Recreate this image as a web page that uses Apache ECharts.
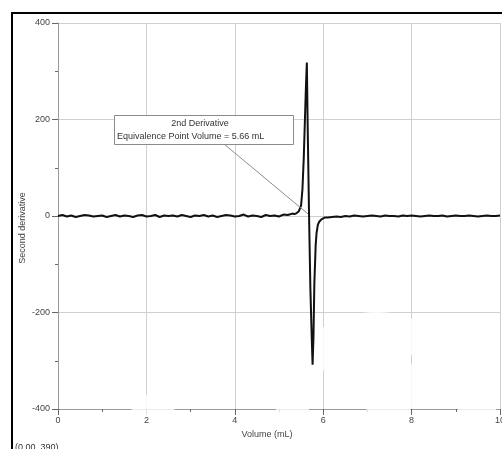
<!DOCTYPE html>
<html><head><meta charset="utf-8">
<script src="https://cdn.jsdelivr.net/npm/echarts@6/dist/echarts.min.js"></script>
<style>html,body{margin:0;padding:0;background:#fff}#c{width:502px;height:449px}</style>
</head><body><div id="c"></div>
<script>
// Volume (mL)
const volumes = [
  0.0,0.1,0.2,0.3,0.4,0.5,0.6,0.7,0.8,0.9,
  1.0,1.1,1.2,1.3,1.4,1.5,1.6,1.7,1.8,1.9,
  2.0,2.1,2.2,2.3,2.4,2.5,2.6,2.7,2.8,2.9,
  3.0,3.1,3.2,3.3,3.4,3.5,3.6,3.7,3.8,3.9,
  4.0,4.1,4.2,4.3,4.4,4.5,4.6,4.7,4.8,4.9,
  5.0,5.1,5.2,5.3,
  5.35,5.40,5.45,5.50,5.53,5.56,5.59,5.61,5.63,5.65,5.68,5.71,5.74,5.76,5.78,5.80,5.83,5.85,5.88,5.91,5.96,6.00,6.04,
  6.1,6.2,6.3,6.4,6.5,6.6,6.7,6.8,6.9,7.0,
  7.1,7.2,7.3,7.4,7.5,7.6,7.7,7.8,7.9,8.0,
  8.1,8.2,8.3,8.4,8.5,8.6,8.7,8.8,8.9,9.0,
  9.1,9.2,9.3,9.4,9.5,9.6,9.7,9.8,9.9,10.0
];
// Second derivative
const secondDerivative = [
  0,2,-1,1,-2,0,2,1,-1,0,
  1,-2,0,2,-1,1,0,-2,1,2,
  -1,0,2,-2,1,0,1,-1,2,0,
  -2,1,0,2,-1,1,-2,0,2,1,
  -1,0,3,-1,1,0,-2,2,0,1,
  -1,3,2,5,
  4,6,10,22,55,120,210,270,318,180,0,-150,-250,-308,-250,-139,-60,-35,-18,-12,-7,-5,-3,
  -3,-2,-1,-2,0,-1,1,0,-1,0,
  1,0,-1,1,0,0,-1,1,0,1,
  0,-1,0,1,0,0,1,-1,0,1,
  0,0,1,0,-1,0,1,0,0,1
];
const xTickLabels = ['0','2','4','6','8','10'];
const yTickLabels = ['-400','-200','0','200','400'];
const xTitle = 'Volume (mL)';
const yTitle = 'Second derivative';
const calloutTitle = '2nd Derivative';
const calloutText = 'Equivalence Point Volume = 5.66 mL';
const calloutPoint = [5.66, 4];
const cornerText = '(0.00, 390)';

const FONT = 'Liberation Sans, Arial, sans-serif';
const seriesData = volumes.map((v, i) => [v, secondDerivative[i]]);

const chart = echarts.init(document.getElementById('c'), null, {renderer: 'canvas'});
chart.setOption({
  animation: false,
  backgroundColor: '#fff',
  grid: {left: 58, right: 2, top: 23, bottom: 40, containLabel: false, outerBoundsMode: 'none'},
  xAxis: [{
    type: 'value', min: 0, max: 10, interval: 2, z: 0,
    axisLine: {show: true, onZero: false, lineStyle: {color: '#9a9a9a', width: 1}},
    axisTick: {show: true, length: 6, lineStyle: {color: '#666'}},
    minorTick: {show: true, splitNumber: 2, length: 3, lineStyle: {color: '#666'}},
    splitLine: {show: true, lineStyle: {color: '#d0d0d0', width: 1}},
    axisLabel: {show: false}
  }, {
    type: 'value', min: 0, max: 10, interval: 2, position: 'bottom', z: 5,
    axisLine: {show: false}, axisTick: {show: false}, splitLine: {show: false},
    axisLabel: {show: true, margin: 7, color: '#444', fontSize: 9, fontFamily: FONT,
      hideOverlap: false, formatter: v => xTickLabels[Math.round(v / 2)]},
    name: xTitle, nameLocation: 'middle', nameGap: 18,
    nameTextStyle: {color: '#444', fontSize: 9, fontFamily: FONT, padding: [0, 24, 0, 0]}
  }],
  yAxis: {
    type: 'value', min: -400, max: 400, interval: 200,
    axisLine: {show: true, onZero: false, lineStyle: {color: '#9a9a9a', width: 1}},
    axisTick: {show: true, length: 6, lineStyle: {color: '#666'}},
    minorTick: {show: true, splitNumber: 2, length: 3, lineStyle: {color: '#666'}},
    splitLine: {show: true, lineStyle: {color: '#d0d0d0', width: 1}},
    axisLabel: {margin: 8, color: '#444', fontSize: 9, fontFamily: FONT,
      formatter: v => yTickLabels[Math.round((v + 400) / 200)]}
  },
  series: [{
    type: 'line', xAxisIndex: 0, data: seriesData, showSymbol: false, z: 3,
    lineStyle: {color: '#111', width: 2}, clip: true
  }]
});

const p = chart.convertToPixel({seriesIndex: 0}, calloutPoint);
const boxX = 114, boxY = 115, boxW = 179, boxH = 29;
chart.setOption({
  graphic: {elements: [
    // faint watermark shapes
    {type: 'polygon', z: 1, silent: true, shape: {points: [[128,413],[153,388],[214,449],[164,449]]}, style: {fill: '#fff', opacity: 0.8}},
    {type: 'sector', z: 1, silent: true, shape: {cx: 376, cy: 412, r: 100, r0: 67, startAngle: 2.2, endAngle: 5.74, clockwise: true}, style: {fill: '#fff', opacity: 0.8}},
    {type: 'polygon', z: 1, silent: true, shape: {points: [[417,359],[462,358],[371,449],[327,449]]}, style: {fill: '#fff', opacity: 0.8}},
    {type: 'polygon', z: 1, silent: true, shape: {points: [[457,403],[485,382],[502,425],[502,449],[463,449]]}, style: {fill: '#fff', opacity: 0.8}},
    // y axis title
    {type: 'text', z: 8, x: 23, y: 228, rotation: Math.PI / 2, style: {text: yTitle, font: '9px ' + FONT, fill: '#444', textAlign: 'center', textVerticalAlign: 'middle'}},
    // callout
    {type: 'line', z: 6, shape: {x1: 224, y1: boxY + boxH, x2: p[0], y2: p[1]}, style: {stroke: '#8c8c8c', lineWidth: 1}},
    {type: 'rect', z: 7, shape: {x: boxX + 0.5, y: boxY + 0.5, width: boxW, height: boxH}, style: {fill: '#fff', stroke: '#8a8a8a', lineWidth: 1}},
    {type: 'text', z: 8, x: 200, y: 124, style: {text: calloutTitle, font: '9px ' + FONT, fill: '#333', textAlign: 'center', textVerticalAlign: 'middle'}},
    {type: 'text', z: 8, x: 117, y: 137, style: {text: calloutText, font: '9px ' + FONT, fill: '#333', textAlign: 'left', textVerticalAlign: 'middle'}},
    // corner readout
    {type: 'text', z: 8, x: 15, y: 443, style: {text: cornerText, font: '9px ' + FONT, fill: '#333', textAlign: 'left', textVerticalAlign: 'top'}},
    // outer frame
    {type: 'rect', z: 9, silent: true, shape: {x: 12, y: 13, width: 700, height: 700}, style: {fill: 'none', stroke: '#000', lineWidth: 2}}
  ]}
});
</script>
</body></html>
